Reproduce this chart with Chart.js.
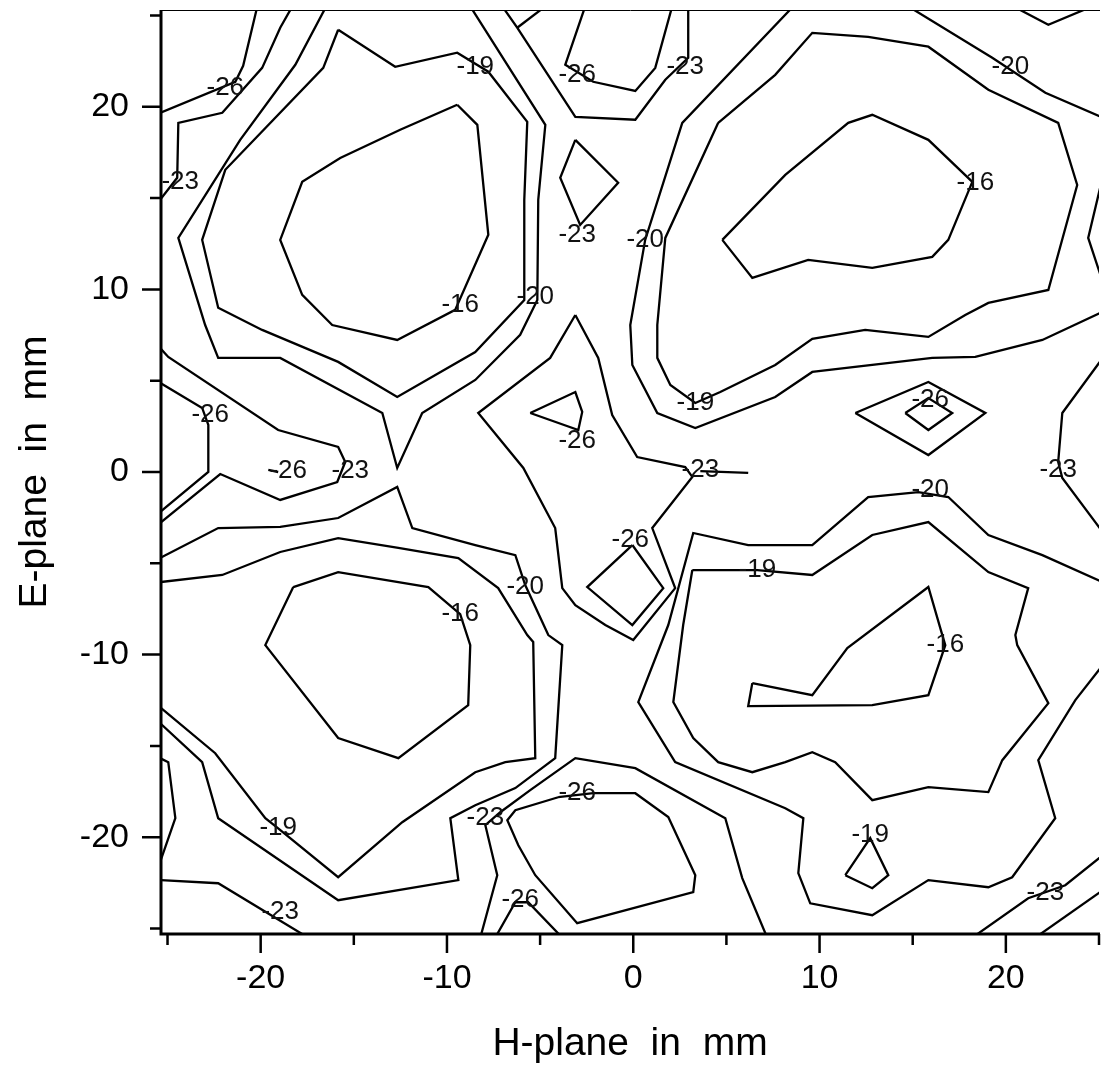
<!DOCTYPE html>
<html>
<head>
<meta charset="utf-8">
<script src="https://cdn.jsdelivr.net/npm/chart.js@4.4.1/dist/chart.umd.min.js"></script>
<style>
  html, body { margin: 0; padding: 0; background: #fff; }
  #wrap { width: 1101px; height: 1068px; }
</style>
</head>
<body>
<div id="wrap"><canvas id="contour" width="1101" height="1068"></canvas></div>
<script>
/* ── Contour lines (x, y in mm) ───────────────────────────────── */

// upper-left lobe
const c16UL = [[-9.45,20.11],[-12.51,18.74],[-15.73,17.20],[-17.77,15.89],[-18.95,12.71],[-17.77,9.70],[-16.16,8.05],[-12.67,7.23],[-9.56,8.88],[-7.78,12.99],[-8.37,19.01],[-9.45,20.11]];
const c19UL = [[-15.84,24.22],[-12.78,22.19],[-9.45,22.96],[-7.78,21.92],[-5.69,19.18],[-5.85,14.90],[-5.85,9.42],[-8.48,6.57],[-12.67,4.11],[-15.84,6.03],[-19.92,7.78],[-22.28,8.99],[-23.14,12.71],[-21.90,16.55],[-16.64,22.13],[-15.84,24.22]];
const c20UL = [[-16.48,25.5],[-18.14,22.30],[-21.10,18.19],[-24.42,12.82],[-22.98,8.05],[-22.28,6.25],[-18.95,6.25],[-13.47,3.23],[-12.67,0.22],[-11.33,3.23],[-8.48,5.04],[-6.07,7.51],[-5.15,9.42],[-5.10,14.90],[-4.72,19.01],[-8.75,25.5]];
const c26UL = [[-20.18,25.5],[-20.94,22.24],[-21.36,21.37],[-25.4,19.67]];
const c23UL = [[-18.30,25.5],[-18.95,24.33],[-19.92,22.13],[-22.06,19.67],[-24.42,19.12],[-24.48,16.11],[-25.4,14.90]];

// top centre
const c26Top = [[-2.58,25.5],[-3.65,22.30],[-2.15,21.37],[0.11,20.87],[1.18,22.13],[2.09,25.5]];
const c23Top = [[-7.03,25.5],[-6.23,24.33],[-3.11,19.45],[0.11,19.29],[1.72,21.48],[2.95,22.68],[2.95,25.5]];
const c23TopV = [[-6.23,24.33],[-4.72,25.5]];
const c23Dia = [[-3.11,18.19],[-0.81,15.84],[-2.85,13.53],[-3.92,16.11],[-3.11,18.19]];

// upper-right lobe
const c16UR = [[4.78,12.71],[8.16,16.27],[11.54,19.12],[12.83,19.56],[15.84,18.19],[18.20,15.89],[16.91,12.71],[16.05,11.78],[12.83,11.18],[9.39,11.62],[6.39,10.63],[4.78,12.71]];
const c19UR = [[4.56,19.12],[7.62,21.75],[9.61,24.05],[12.61,23.83],[15.84,23.29],[19.06,20.93],[22.81,19.12],[23.83,15.72],[22.28,9.97],[19.06,9.26],[17.82,8.60],[15.84,7.40],[12.45,7.78],[9.61,7.29],[7.62,5.86],[4.67,4.38],[3.33,3.78],[1.99,4.77],[1.29,6.25],[1.29,8.05],[1.72,12.82],[4.56,19.12]];
const c20UR = [[8.59,25.5],[2.63,19.12],[0.64,12.71],[-0.16,8.05],[-0.05,5.86],[1.29,3.23],[3.33,2.41],[7.62,4.11],[9.61,5.48],[16.05,6.25],[18.36,6.30],[21.96,7.23],[25.2,8.77]];
const c20TR = [[14.76,25.5],[19.27,22.68],[22.12,20.77],[25.2,19.40]];
const c23TRV = [[20.40,25.5],[22.28,24.49],[24.64,25.5]];
const c23Edge = [[25.2,16.16],[24.42,12.82],[25.2,10.41]];

// centre
const c23Star = [[-3.11,8.60],[-1.88,6.25],[-1.13,3.12],[0.21,0.82],[2.79,0.27],[3.17,-0.27],[1.02,-3.07],[2.25,-6.36],[0,-9.20],[-1.50,-8.38],[-3.11,-7.29],[-3.81,-6.36],[-4.19,-3.07],[-5.90,0.22],[-8.32,3.23],[-4.46,6.25],[-3.11,8.60]];
const c23Spur = [[3.60,0.05],[6.17,-0.05]];
const c26Tri = [[-5.53,3.23],[-3.11,4.38],[-2.74,3.29],[-2.95,2.30],[-5.53,3.23]];
const c26Dia = [[-0.05,-4.00],[1.61,-6.36],[-0.05,-8.38],[-2.47,-6.30],[-0.05,-4.00]];

// right side
const c23Right = [[25.2,6.25],[23.03,3.23],[22.81,0.55],[23.03,-0.33],[25.2,-3.29]];
const c26RDiaOut = [[11.92,3.23],[15.84,4.93],[18.90,3.23],[15.84,0.93],[11.92,3.23]];
const c26RDiaIn = [[14.60,3.23],[15.84,4.05],[17.12,3.23],[15.84,2.30],[14.60,3.23]];

// left side
const c23Left = [[-25.4,6.79],[-24.96,6.30],[-19.06,2.30],[-15.84,1.37],[-15.46,0.55],[-15.89,-0.55],[-18.95,-1.53],[-22.17,-0.11],[-25.4,-2.79]];
const c26Left = [[-25.4,4.88],[-23.14,3.51],[-22.81,2.58],[-22.81,0],[-25.4,-2.19]];
const c26Tiny = [[-19.59,0.11],[-19.06,0]];

// lower-left lobe
const c16LL = [[-18.25,-6.30],[-15.84,-5.48],[-11.00,-6.30],[-9.29,-7.78],[-8.75,-9.48],[-8.86,-12.77],[-12.61,-15.67],[-15.84,-14.57],[-19.75,-9.48],[-18.25,-6.30]];
const c19LL = [[-25.4,-6.03],[-22.06,-5.64],[-18.95,-4.38],[-15.84,-3.62],[-12.61,-4.16],[-9.39,-4.71],[-7.25,-6.36],[-5.69,-8.93],[-5.37,-9.31],[-5.26,-15.67],[-6.87,-15.89],[-8.48,-16.44],[-12.40,-19.18],[-15.84,-22.19],[-19.06,-19.51],[-19.75,-18.96],[-22.44,-15.40],[-25.4,-12.88]];
const c20LL = [[-25.4,-4.71],[-22.28,-3.07],[-18.95,-3.01],[-15.84,-2.52],[-12.67,-0.82],[-11.86,-3.07],[-8.48,-4.00],[-6.33,-4.55],[-5.80,-6.19],[-4.56,-8.93],[-3.81,-9.48],[-4.19,-15.67],[-6.33,-17.31],[-8.48,-18.25],[-9.82,-18.96],[-9.39,-22.35],[-15.84,-23.45],[-22.28,-18.96],[-23.14,-15.89],[-25.4,-13.75]];
const c23LEdge = [[-25.4,-15.67],[-24.96,-15.89],[-24.58,-18.96],[-25.4,-21.37]];
const c23LBot = [[-25.4,-22.35],[-22.28,-22.52],[-17.45,-25.5]];

// bottom centre
const c23Bot = [[-8.21,-25.5],[-7.30,-22.08],[-7.94,-19.34],[-7.14,-18.63],[-5.53,-17.42],[-3.11,-15.67],[0.11,-16.22],[4.94,-18.96],[5.85,-22.24],[7.19,-25.5]];
const c26Bot = [[-4.03,-17.81],[-2.15,-17.59],[0.11,-17.59],[1.88,-18.90],[3.33,-22.08],[3.22,-23.01],[-3.01,-24.71],[-5.26,-22.08],[-6.17,-20.44],[-6.76,-19.07],[-6.33,-18.52],[-4.03,-17.81]];
const c26BotV = [[-7.41,-25.5],[-6.33,-23.56],[-5.64,-23.56],[-3.81,-25.5]];

// lower-right lobe
const c16LR = [[6.39,-11.56],[9.61,-12.22],[11.49,-9.64],[15.84,-6.30],[16.59,-8.93],[16.75,-9.48],[15.84,-12.22],[12.83,-12.77],[6.17,-12.82],[6.39,-11.56]];
const c19LR = [[3.17,-5.37],[6.66,-5.37],[9.61,-5.64],[12.83,-3.45],[15.84,-2.74],[19.06,-5.48],[21.20,-6.36],[20.51,-8.93],[20.61,-9.48],[22.28,-12.66],[19.81,-15.78],[19.06,-17.53],[15.84,-17.26],[12.83,-17.97],[10.84,-15.89],[9.61,-15.34],[8.16,-15.89],[6.39,-16.44],[4.56,-15.89],[3.22,-14.57],[2.15,-12.60],[2.68,-8.38],[3.17,-5.37]];
const c20LR = [[25.2,-6.03],[21.96,-4.55],[19.06,-3.45],[16.91,-1.37],[15.30,-1.10],[12.61,-1.37],[9.61,-4.00],[6.17,-4.00],[3.22,-3.34],[1.88,-8.38],[0.27,-12.60],[2.25,-15.89],[8.16,-18.41],[9.13,-18.96],[8.86,-21.97],[9.50,-23.62],[12.83,-24.27],[15.84,-22.35],[19.06,-22.74],[20.34,-22.19],[22.65,-18.96],[21.74,-15.78],[23.73,-12.49],[25.2,-10.57]];
const c19Tri = [[11.38,-22.08],[12.72,-20.05],[13.69,-22.08],[12.83,-22.79],[11.38,-22.08]];
const c23BR = [[18.20,-25.5],[21.20,-23.34],[23.19,-22.63],[25.2,-20.99]];
const c26BR = [[21.58,-25.5],[25.2,-22.90]];

const contours = [
  c16UL, c19UL, c20UL, c26UL, c23UL,
  c26Top, c23Top, c23TopV, c23Dia,
  c16UR, c19UR, c20UR, c20TR, c23TRV, c23Edge,
  c23Star, c23Spur, c26Tri, c26Dia,
  c23Right, c26RDiaOut, c26RDiaIn,
  c23Left, c26Left, c26Tiny,
  c16LL, c19LL, c20LL, c23LEdge, c23LBot,
  c23Bot, c26Bot, c26BotV,
  c16LR, c19LR, c20LR, c19Tri, c23BR, c26BR,
];

// contour level labels
const labelText = ['-26','-19','-26','-23','-20','-23','-16','-23','-20','-16','-20','-19','-26','-26','-26','-26','-23','-23','-23','-20','-26','-19','-20','-16','-16','-26','-23','-19','-19','-26','-23','-23'];
const labelX    = [-21.90,-8.48,-3.01,2.79,20.24,-24.32,18.36,-3.01,0.64,-9.29,-5.26,3.33,15.94,-22.71,-3.01,-18.52,-15.19,3.60,22.81,15.94,-0.16,6.66,-5.80,-9.29,16.75,-3.01,-7.94,-19.06,12.72,-6.07,22.12,-18.95];
const labelY    = [21.04,22.19,21.75,22.19,22.19,15.89,15.84,12.99,12.71,9.15,9.59,3.78,3.95,3.12,1.70,0.05,0.05,0.11,0.11,-0.99,-3.73,-5.37,-6.30,-7.78,-9.48,-17.59,-18.96,-19.51,-19.89,-23.45,-23.07,-24.11];

// axes
const xTicks = [-25, -20, -15, -10, -5, 0, 5, 10, 15, 20, 25];
const yTicks = [-25, -20, -15, -10, -5, 0, 5, 10, 15, 20, 25];

/* ── Plugins ──────────────────────────────────────────────────── */

const FONT = '"Liberation Sans", Arial, Helvetica, sans-serif';

const levelLabels = {
  id: 'levelLabels',
  afterDatasetsDraw(chart) {
    const { ctx, scales: { x, y } } = chart;
    ctx.save();
    ctx.font = `26px ${FONT}`;
    ctx.fillStyle = '#111';
    ctx.textAlign = 'center';
    ctx.textBaseline = 'middle';
    labelText.forEach((t, i) => {
      ctx.fillText(t, x.getPixelForValue(labelX[i]), y.getPixelForValue(labelY[i]));
    });
    ctx.restore();
  },
};

// frame + outward ticks (short minor ticks, long major ones)
const frame = {
  id: 'frame',
  afterDraw(chart) {
    const { ctx, chartArea: a, scales: { x, y } } = chart;
    ctx.save();
    ctx.strokeStyle = '#000';

    ctx.lineWidth = 1;
    ctx.beginPath();
    ctx.moveTo(a.left, a.top + 0.5);
    ctx.lineTo(a.right + 1, a.top + 0.5);
    ctx.stroke();

    ctx.lineWidth = 3;
    ctx.beginPath();
    ctx.moveTo(a.left, a.top);
    ctx.lineTo(a.left, a.bottom);
    ctx.lineTo(a.right + 1, a.bottom);
    ctx.stroke();

    ctx.lineWidth = 2.5;
    ctx.beginPath();
    xTicks.forEach(v => {
      const px = x.getPixelForValue(v);
      const len = v % 10 === 0 ? 19 : 11;
      ctx.moveTo(px, a.bottom);
      ctx.lineTo(px, a.bottom + len);
    });
    yTicks.forEach(v => {
      const py = y.getPixelForValue(v);
      const len = v % 10 === 0 ? 19 : 11;
      ctx.moveTo(a.left - len, py);
      ctx.lineTo(a.left, py);
    });
    ctx.stroke();
    ctx.restore();
  },
};

/* ── Chart ────────────────────────────────────────────────────── */

const datasets = contours.map(line => ({
  data: line.map(([px, py]) => ({ x: px, y: py })),
  showLine: true,
  borderColor: '#000',
  borderWidth: 2.3,
  pointRadius: 0,
  fill: false,
  tension: 0,
}));

const tickLabel = v => (v % 10 === 0 ? String(v) : '');

// keep the plot box fixed: no extra room for overhanging tick labels
const noOverhang = s => {
  s.paddingLeft = 0;
  s.paddingRight = 0;
  s.paddingTop = 0;
  s.paddingBottom = 0;
};

new Chart(document.getElementById('contour'), {
  type: 'scatter',
  data: { datasets },
  options: {
    responsive: false,
    animation: false,
    devicePixelRatio: 1,
    layout: { padding: { top: 10, right: 2, left: 0, bottom: 0 } },
    plugins: { legend: { display: false }, tooltip: { enabled: false } },
    scales: {
      x: {
        type: 'linear',
        position: 'bottom',
        min: -25.35,
        max: 25.0,
        grid: { display: false, drawTicks: false },
        border: { display: false },
        afterBuildTicks: s => { s.ticks = xTicks.map(v => ({ value: v })); },
        afterFit: s => { s.height = 134; noOverhang(s); },
        ticks: {
          autoSkip: false,
          maxRotation: 0,
          padding: 24,
          color: '#000',
          font: { family: FONT, size: 34 },
          callback: tickLabel,
        },
        title: {
          display: true,
          text: 'H-plane  in  mm',
          color: '#000',
          font: { family: FONT, size: 39 },
          padding: { top: 0, bottom: 0 },
        },
      },
      y: {
        type: 'linear',
        position: 'left',
        min: -25.3,
        max: 25.3,
        grid: { display: false, drawTicks: false },
        border: { display: false },
        afterBuildTicks: s => { s.ticks = yTicks.map(v => ({ value: v })); },
        afterFit: s => { s.width = 161; noOverhang(s); },
        ticks: {
          autoSkip: false,
          padding: 32,
          color: '#000',
          font: { family: FONT, size: 34 },
          callback: tickLabel,
        },
        title: {
          display: true,
          text: 'E-plane  in  mm',
          color: '#000',
          font: { family: FONT, size: 39 },
          padding: { top: 12, bottom: 0 },
        },
      },
    },
  },
  plugins: [levelLabels, frame],
});
</script>
</body>
</html>
